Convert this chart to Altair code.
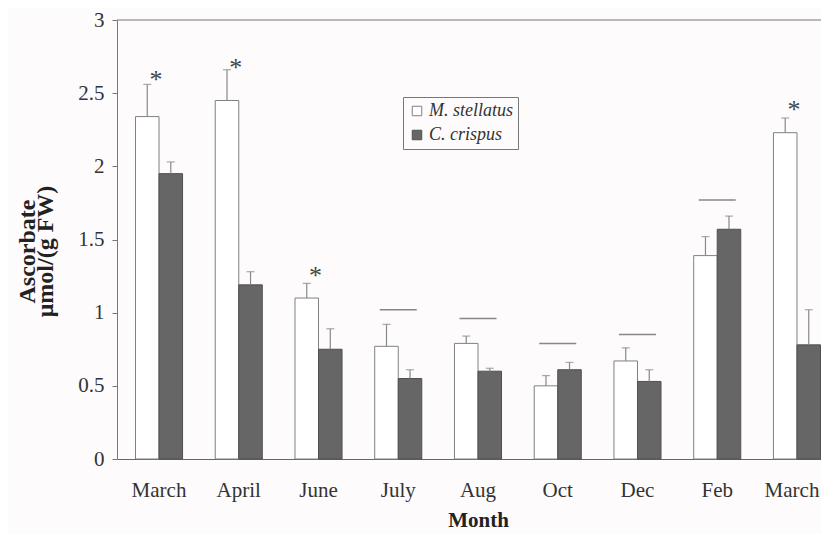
import altair as alt
import pandas as pd

months = ["March_1", "April", "June", "July", "Aug", "Oct", "Dec", "Feb", "March_2"]
species = ["M. stellatus", "C. crispus"]
m_vals = [2.34, 2.45, 1.10, 0.77, 0.79, 0.50, 0.67, 1.39, 2.23]
m_se = [0.22, 0.21, 0.10, 0.15, 0.05, 0.07, 0.09, 0.13, 0.10]
c_vals = [1.95, 1.19, 0.75, 0.55, 0.60, 0.61, 0.53, 1.57, 0.78]
c_se = [0.08, 0.09, 0.14, 0.06, 0.02, 0.05, 0.08, 0.09, 0.24]

star_months = ["March_1", "April", "June", "March_2"]
star_y = [2.64, 2.72, 1.30, 2.43]
line_months = ["July", "Aug", "Oct", "Dec", "Feb"]
line_y = [1.02, 0.96, 0.79, 0.85, 1.77]

rows = []
for i, mo in enumerate(months):
    rows.append({"month": mo, "species": species[0], "value": m_vals[i], "err": m_vals[i] + m_se[i]})
    rows.append({"month": mo, "species": species[1], "value": c_vals[i], "err": c_vals[i] + c_se[i]})
df = pd.DataFrame(rows)
stars = pd.DataFrame({"month": star_months, "y": star_y, "t": ["*"] * len(star_months)})
lines = pd.DataFrame({"month": line_months, "y": line_y})

FONT = "Liberation Serif"
W = 704
H = 439

xscale = alt.Scale(domain=months, range=[0, 722], paddingInner=0.41, paddingOuter=0.232)
xenc = alt.X("month:N", sort=months, scale=xscale,
             axis=alt.Axis(title="Month", labelExpr="split(datum.label, '_')[0]", labelAngle=0,
                           ticks=False, labelPadding=20, titlePadding=9, domainColor="#666",
                           labelFont=FONT, labelFontSize=21, labelColor="#333",
                           labelOffset={"condition": {"test": "datum.value == 'March_2'", "value": -5}, "value": 0},
                           titleFont=FONT, titleFontSize=21, titleFontWeight="bold", titleColor="#222",
                           titleX=361))
yscale = alt.Scale(domain=[0, 3], nice=False)
xoff = alt.XOffset("species:N", sort=species, scale=alt.Scale(domain=species, paddingInner=0, paddingOuter=0))

base = alt.Chart(df)

bars = base.mark_bar(strokeWidth=1).encode(
    x=xenc,
    xOffset=xoff,
    y=alt.Y("value:Q", scale=yscale,
            axis=alt.Axis(title=["Ascorbate", "μmol/(g FW)"], values=[0, 0.5, 1, 1.5, 2, 2.5, 3],
                          format="~g", grid=False, tickSize=5, tickColor="#777", domainColor="#777",
                          labelPadding=8, titlePadding=20, titleY=231,
                          labelFont=FONT, labelFontSize=21, labelColor="#333",
                          titleFont=FONT, titleFontSize=24, titleFontWeight="bold", titleColor="#222",
                          titleLineHeight=18)),
    fill=alt.Fill("species:N", sort=species,
                  scale=alt.Scale(domain=species, range=["#ffffff", "#666666"]),
                  legend=alt.Legend(title=None, orient="none", legendX=286, legendY=77,
                                    symbolType="square", symbolSize=90, symbolStrokeColor="#555",
                                    symbolStrokeWidth=1, labelFont=FONT, labelFontSize=18,
                                    labelFontStyle="italic", labelColor="#333", labelOffset=3,
                                    padding=5, rowPadding=6, strokeColor="#777", fillColor="#fdfbfb")),
    stroke=alt.Stroke("species:N", sort=species,
                      scale=alt.Scale(domain=species, range=["#808080", "#505050"]), legend=None),
)

err_rule = base.mark_rule(color="#888", strokeWidth=1.2).encode(
    x=alt.X("month:N", sort=months, scale=xscale),
    xOffset=xoff,
    y=alt.Y("value:Q", scale=yscale),
    y2="err:Q",
)
err_cap = base.mark_tick(color="#888", thickness=1.2, size=8).encode(
    x=alt.X("month:N", sort=months, scale=xscale),
    xOffset=xoff,
    y=alt.Y("err:Q", scale=yscale),
)

star_marks = alt.Chart(stars).mark_text(font=FONT, fontSize=26, color="#444", dx=-3, dy=7).encode(
    x=alt.X("month:N", sort=months, scale=xscale),
    y=alt.Y("y:Q", scale=yscale),
    text="t:N",
)
sig_lines = alt.Chart(lines).mark_tick(color="#555", thickness=1.5, size=37).encode(
    x=alt.X("month:N", sort=months, scale=xscale),
    y=alt.Y("y:Q", scale=yscale),
)
top_line = alt.Chart(pd.DataFrame({"y": [3]})).mark_rule(color="#777", strokeWidth=1).encode(
    y=alt.Y("y:Q", scale=yscale),
)

chart = alt.layer(bars, err_rule, err_cap, sig_lines, star_marks, top_line).properties(
    width=W, height=H,
    autosize=alt.AutoSizeParams(type="none"),
    padding={"left": 109, "top": 12, "right": 0, "bottom": 75},
    background="#fdfbfb",
).configure_view(stroke=None)

chart.save("out.html", embed_options={"renderer": "svg", "actions": False})
